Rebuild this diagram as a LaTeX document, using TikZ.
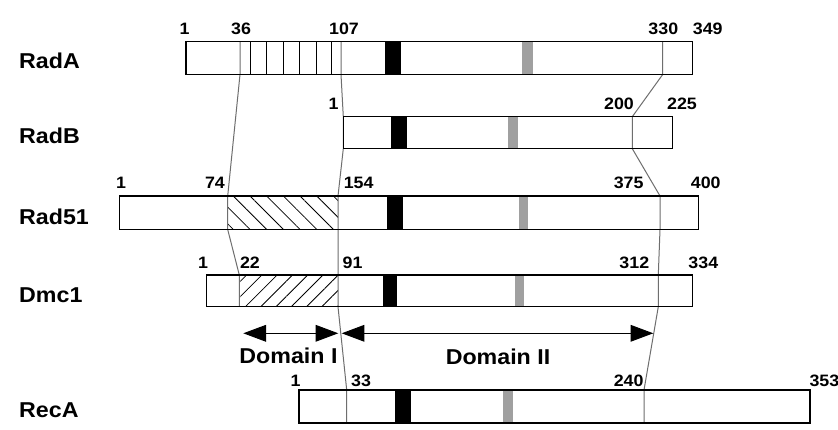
\documentclass[tikz,border=0pt]{standalone}
\usepackage{fontspec}
\setmainfont[FakeStretch=1.08]{Liberation Sans}
\usetikzlibrary{arrows.meta,patterns.meta}
\definecolor{connc}{HTML}{6E6E6E}
\definecolor{motifc}{HTML}{A0A0A0}
\begin{document}
\begin{tikzpicture}[x=1pt,y=-1pt,
  protbox/.style={draw=black,line width=1.3pt},
  conn/.style={draw=connc,line width=1pt,line join=round},
  stripe/.style={draw=black,line width=1pt},
  blackmotif/.style={fill=black},
  graymotif/.style={fill=motifc},
  pname/.style={font=\bfseries\fontsize{21.5}{24}\selectfont,anchor=base west,inner sep=0pt},
  num/.style={font=\bfseries\fontsize{16.5}{18}\selectfont,anchor=base,inner sep=0pt},
  domlabel/.style={font=\bfseries\fontsize{21.5}{24}\selectfont,anchor=base,inner sep=0pt},
  domarrow/.style={line width=1pt,{Triangle[length=22.7pt,width=16.7pt]}-{Triangle[length=22.7pt,width=16.7pt]}}
]
\useasboundingbox (0,0) rectangle (838,430);
\fill[white] (0,0) rectangle (838,430);

% ---------- protein names
\node[pname] (nRadA) at (19,69) {RadA};
\node[pname] (nRadB) at (19,144) {RadB};
\node[pname] (nRad51) at (19,225) {Rad51};
\node[pname] (nDmc1) at (19,303) {Dmc1};
\node[pname] (nRecA) at (19,417) {RecA};

% ---------- box fills, hatching, motifs
\fill[white] (186,41.7) rectangle (692.7,74.5);
\fill[white] (343.3,116.7) rectangle (672.3,148.7);
\fill[white] (119.5,196) rectangle (698.5,229.5);
\fill[white] (206.7,275) rectangle (692.7,306.7);
\fill[white] (299,390) rectangle (810,423);

\fill[pattern={Lines[angle=-45,distance=11.8pt,line width=0.8pt]}] (227.7,196) rectangle (338,229.5);
\fill[pattern={Lines[angle=45,distance=10.8pt,line width=0.8pt]}] (239.3,275) rectangle (338,306.7);

\fill[blackmotif] (385,41.7) rectangle (400.7,74.5);
\fill[graymotif] (522.3,41.7) rectangle (532.7,74.5);
\fill[blackmotif] (391,116.7) rectangle (406.7,148.7);
\fill[graymotif] (508.3,116.7) rectangle (518.3,148.7);
\fill[blackmotif] (386.7,196) rectangle (402.7,229.5);
\fill[graymotif] (518.7,196) rectangle (528.3,229.5);
\fill[blackmotif] (382.7,275) rectangle (396.7,306.7);
\fill[graymotif] (515,275) rectangle (524.3,306.7);
\fill[blackmotif] (395,390) rectangle (410.7,423);
\fill[graymotif] (502.7,390) rectangle (512.7,423);

% RadA stripes
\foreach \sx in {250.7,266.7,283.3,299.3,316,331.7}
  \draw[stripe] (\sx,41.7) -- (\sx,74.5);

% ---------- alignment connectors
\coordinate (p1a) at (240,41.7);   \coordinate (p1b) at (240,74.5);
\coordinate (p1c) at (227.7,196);  \coordinate (p1d) at (227.7,229.5);
\coordinate (p1e) at (239.3,275);  \coordinate (p1f) at (239.3,306.7);
\draw[conn] (p1a) -- (p1b) -- (p1c) -- (p1d) -- (p1e) -- (p1f);

\coordinate (p2a) at (341,41.7);   \coordinate (p2b) at (341,74.5);
\coordinate (p2c) at (343.3,116.7);\coordinate (p2d) at (343.3,148.7);
\coordinate (p2e) at (338,196);    \coordinate (p2f) at (338,229.5);
\coordinate (p2g) at (338,275);    \coordinate (p2h) at (338,306.7);
\coordinate (p2i) at (346.7,390);  \coordinate (p2j) at (346.7,423);
\draw[conn] (p2a) -- (p2b) -- (p2c) -- (p2d) -- (p2e) -- (p2f) -- (p2g) -- (p2h) -- (p2i) -- (p2j);

\coordinate (p3a) at (662.7,41.7); \coordinate (p3b) at (662.7,74.5);
\coordinate (p3c) at (632.3,116.7);\coordinate (p3d) at (632.3,148.7);
\coordinate (p3e) at (660,196);    \coordinate (p3f) at (660,229.5);
\coordinate (p3g) at (658.3,275);  \coordinate (p3h) at (658.3,306.7);
\coordinate (p3i) at (644,390);    \coordinate (p3j) at (644,423);
\draw[conn] (p3a) -- (p3b) -- (p3c) -- (p3d) -- (p3e) -- (p3f) -- (p3g) -- (p3h) -- (p3i) -- (p3j);

% ---------- box outlines
\draw[protbox] (186,41.7) rectangle (692.7,74.5);
\draw[protbox] (343.3,116.7) rectangle (672.3,148.7);
\draw[protbox] (119.5,196) rectangle (698.5,229.5);
\draw[protbox] (206.7,275) rectangle (692.7,306.7);
\draw[protbox] (299,390) rectangle (810,423);

% ---------- residue numbers
\node[num] (a1) at (184.5,35) {1};
\node[num] (a36) at (241,35) {36};
\node[num] (a107) at (344,35) {107};
\node[num] (a330) at (663.3,35) {330};
\node[num] (a349) at (707.7,35) {349};

\node[num] (b1) at (333.7,110) {1};
\node[num] (b200) at (619,110) {200};
\node[num] (b225) at (682,110) {225};

\node[num] (c1) at (121,189) {1};
\node[num] (c74) at (215,189) {74};
\node[num] (c154) at (358.7,189) {154};
\node[num] (c375) at (628.7,189) {375};
\node[num] (c400) at (705.7,189) {400};

\node[num] (d1) at (203,269) {1};
\node[num] (d22) at (250,269) {22};
\node[num] (d91) at (352.5,269) {91};
\node[num] (d312) at (634.3,269) {312};
\node[num] (d334) at (703.3,269) {334};

\node[num] (e1) at (295.5,386) {1};
\node[num] (e33) at (361,386) {33};
\node[num] (e240) at (628.7,386) {240};
\node[num,anchor=base west] (e353) at (809.3,386) {353};

% ---------- domains
\coordinate (d1l) at (243.3,333.3);
\coordinate (d1r) at (338.3,333.3);
\coordinate (d2l) at (341.7,333.3);
\coordinate (d2r) at (653.3,333.3);
\draw[domarrow] (d1l) -- (d1r);
\draw[domarrow] (d2l) -- (d2r);
\node[domlabel] (domI) at (288.5,363.5) {Domain I};
\node[domlabel] (domII) at (498,364) {Domain II};
\end{tikzpicture}
\end{document}
